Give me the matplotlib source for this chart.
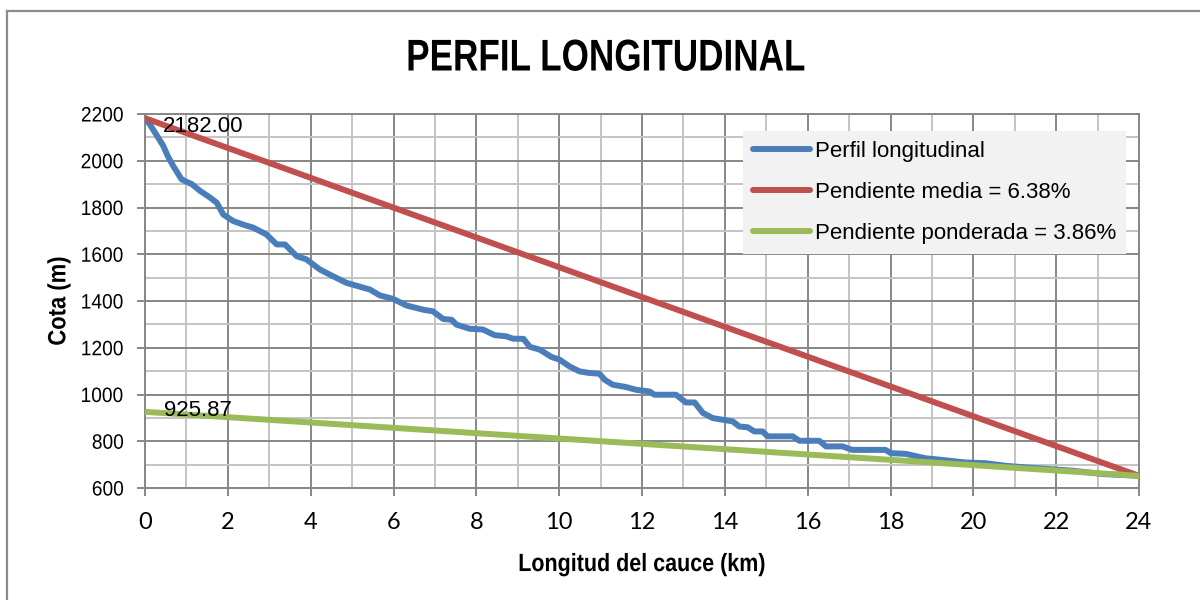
import matplotlib
matplotlib.use("Agg")
import matplotlib.pyplot as plt
from matplotlib.lines import Line2D
from matplotlib.ticker import MultipleLocator
from matplotlib import patheffects
from matplotlib.transforms import Affine2D

# ---- data ----
perfil_x = [0, 0.1, 0.24, 0.44, 0.55, 0.68, 0.88, 1.0, 1.13, 1.33, 1.55, 1.73, 1.89, 2.13, 2.4,
            2.61, 2.93, 3.18, 3.38, 3.66, 3.9, 4.22, 4.54, 4.86, 5.27, 5.43, 5.67, 5.99, 6.31,
            6.71, 6.95, 7.2, 7.4, 7.52, 7.84, 8.16, 8.44, 8.72, 8.88, 9.14, 9.29, 9.53, 9.81,
            10.01, 10.25, 10.49, 10.73, 10.97, 11.1, 11.29, 11.61, 11.86, 12.18, 12.3, 12.82,
            13.06, 13.27, 13.47, 13.71, 13.95, 14.19, 14.35, 14.55, 14.71, 14.91, 15.03, 15.64,
            15.8, 16.28, 16.44, 16.84, 17.08, 17.88, 18.01, 18.37, 18.85, 19.09, 19.82, 20.3,
            20.78, 21.5, 22.39, 23.11, 24.0]
perfil_y = [2182, 2160, 2121, 2064, 2020, 1978, 1921, 1910, 1900, 1871, 1845, 1821, 1770, 1742, 1725,
            1714, 1685, 1642, 1642, 1592, 1578, 1535, 1506, 1478, 1457, 1449, 1424, 1409, 1381,
            1363, 1356, 1323, 1320, 1299, 1281, 1278, 1254, 1249, 1239, 1238, 1204, 1192, 1161,
            1149, 1120, 1099, 1092, 1089, 1063, 1042, 1032, 1020, 1013, 999, 999,
            966, 966, 921, 899, 892, 885, 863, 860, 842, 842, 821, 821,
            802, 802, 778, 778, 763, 763, 749, 746, 727, 723, 709, 706,
            695, 685, 674, 660, 652]
media_x = [0, 24.0]
media_y = [2182.00, 652]
ponderada_x = [0, 24.0]
ponderada_y = [925.87, 652]
labels = ["Perfil longitudinal", "Pendiente media = 6.38%", "Pendiente ponderada = 3.86%"]
x_ticks = [0, 2, 4, 6, 8, 10, 12, 14, 16, 18, 20, 22, 24]
y_ticks = [600, 800, 1000, 1200, 1400, 1600, 1800, 2000, 2200]

BLUE = "#4a7ebb"
RED = "#c0504d"
GREEN = "#9bbb59"
ARIAL = ["Liberation Sans", "DejaVu Sans"]


class Condense(patheffects.AbstractPathEffect):
    """Draw text horizontally condensed (narrow face look) around its own centre."""
    def __init__(self, sx):
        super().__init__()
        self.sx = sx

    def draw_path(self, renderer, gc, tpath, affine, rgbFace=None):
        ext = tpath.get_extents()
        cx = (ext.x0 + ext.x1) / 2
        t = Affine2D().translate(-cx, 0).scale(self.sx, 1).translate(cx, 0) + affine
        renderer.draw_path(gc, tpath, t, rgbFace)


fig = plt.figure(figsize=(12, 6), dpi=100)
ax = fig.add_axes([145/1200, 1-488/600, (1139-145)/1200, (488-114)/600])

ax.plot(perfil_x, perfil_y, color=BLUE, lw=4.3, solid_joinstyle="round", solid_capstyle="round",
        label=labels[0], zorder=3)
ax.plot(media_x, media_y, color=RED, lw=4.3, label=labels[1], zorder=4)
ax.plot(ponderada_x, ponderada_y, color=GREEN, lw=4.3, label=labels[2], zorder=5)

ax.annotate(f"{media_y[0]:.2f}", (media_x[0], media_y[0]), xytext=(13, -6), textcoords="offset points",
            ha="left", va="center", fontsize=16, family=ARIAL, zorder=6)
ax.annotate(f"{ponderada_y[0]:.2f}", (ponderada_x[0], ponderada_y[0]), xytext=(14, 1), textcoords="offset points",
            ha="left", va="center", fontsize=16, family=ARIAL, zorder=6)

ax.set_xlim(0, 24)
ax.set_ylim(600, 2200)
ax.set_xticks(x_ticks)
ax.set_yticks(y_ticks)
ax.xaxis.set_minor_locator(MultipleLocator(1))
ax.yaxis.set_minor_locator(MultipleLocator(100))
ax.grid(which="major", color="#878787", lw=1.4, zorder=1)
ax.grid(which="minor", color="#c4c4c4", lw=1.4, zorder=0)
ax.set_axisbelow(True)
for s in ax.spines.values():
    s.set_color("#878787")
    s.set_linewidth(1.4)
ax.tick_params(which="major", length=6, width=1.4, color="#878787", direction="out")
ax.tick_params(which="minor", length=0)
ax.tick_params(axis="x", pad=11)
ax.tick_params(axis="y", pad=8)
for t in ax.get_xticklabels():
    t.set_family(["Lato", "DejaVu Sans"])
    t.set_fontsize(17)
for t in ax.get_yticklabels():
    t.set_family(ARIAL)
    t.set_fontsize(15)
    t.set_path_effects([Condense(0.92)])

xl = ax.set_xlabel("Longitud del cauce (km)", fontsize=18, fontweight="bold", family=ARIAL, labelpad=14)
yl = ax.set_ylabel("Cota (m)", fontsize=18, fontweight="bold", family=ARIAL, labelpad=6)
xl.set_path_effects([Condense(0.86)])
yl.set_path_effects([Condense(0.88)])
title = fig.text(606/1200, 1-59/600, "PERFIL LONGITUDINAL", ha="center", va="center",
                 fontsize=32, fontweight="bold", family=ARIAL)
title.set_path_effects([Condense(0.79)])

leg = ax.legend(loc="upper right", bbox_to_anchor=((1126-145)/994, (488-131)/374),
                borderaxespad=0, frameon=True, fancybox=False,
                prop={"family": ARIAL, "size": 16}, handlelength=2.6, handletextpad=0.2,
                labelspacing=0.9, borderpad=0.45)
leg.get_frame().set_facecolor("#f2f2f2")
leg.get_frame().set_edgecolor("none")
leg.get_frame().set_alpha(1)
for h in leg.get_lines():
    h.set_linewidth(4.3)
    h.set_solid_capstyle("round")

# outer chart border
fig.add_artist(Line2D([7/1200, 7/1200], [0, 1-11/600], color="#8c8c8c", lw=1.6, transform=fig.transFigure))
fig.add_artist(Line2D([7/1200, 1], [1-11/600, 1-11/600], color="#8c8c8c", lw=1.6, transform=fig.transFigure))

fig.savefig("out.png", dpi=100)
